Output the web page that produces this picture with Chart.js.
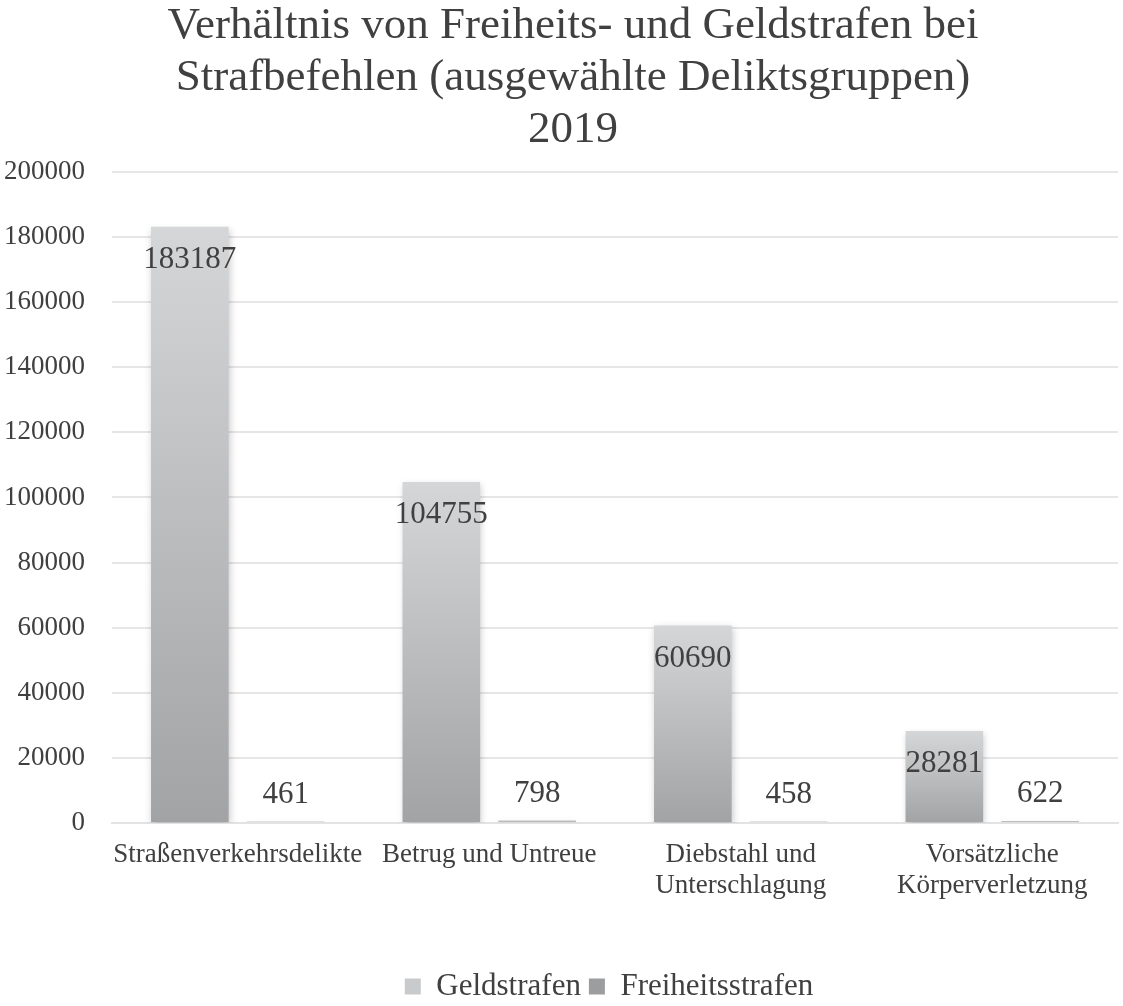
<!DOCTYPE html>
<html><head><meta charset="utf-8">
<script src="https://cdn.jsdelivr.net/npm/chart.js@4/dist/chart.umd.min.js"></script>
<style>html,body{margin:0;padding:0;background:#fff}#wrap{width:1123px;height:1006px}</style>
</head><body><div id="wrap"><canvas id="c"></canvas></div>
<script>
const categories = [["Straßenverkehrsdelikte"], ["Betrug und Untreue"], ["Diebstahl und", "Unterschlagung"], ["Vorsätzliche", "Körperverletzung"]];
const geldstrafen = [183187, 104755, 60690, 28281];
const freiheitsstrafen = [461, 798, 458, 622];
const seriesNames = ["Geldstrafen", "Freiheitsstrafen"];
const titleLines = ["Verhältnis von Freiheits- und Geldstrafen bei", "Strafbefehlen (ausgewählte Deliktsgruppen)", "2019"];

const FONT = "'Liberation Serif', 'Times New Roman', serif";
const TXT = '#404040';
const legendColors = ['#c9cacc', '#9c9d9f'];

function barGradient(ctx, topColor, botColor, solid) {
  if (ctx.type !== 'data') return solid;
  const chart = ctx.chart;
  if (!chart.chartArea || !chart.scales.y) return solid;
  const y = chart.scales.y;
  const top = y.getPixelForValue(ctx.raw);
  const base = y.getPixelForValue(0);
  if (!isFinite(top) || !isFinite(base) || Math.abs(base - top) < 1) return solid;
  const g = chart.ctx.createLinearGradient(0, top, 0, base);
  g.addColorStop(0, topColor);
  g.addColorStop(1, botColor);
  return g;
}

const shadowPlugin = {
  id: 'shadow',
  afterLayout(chart) {
    const lg = chart.legend;
    if (lg) { lg.left += 50; lg.right += 50; lg.top += 6; lg.bottom += 6; }
    const tb = chart.titleBlock;
    if (tb) { tb.left += 14; tb.right += 14; }
  },
  beforeDatasetsDraw(chart) {
    const c = chart.ctx; c.save();
    c.shadowColor = 'rgba(0,0,0,0.22)'; c.shadowBlur = 7; c.shadowOffsetX = 1; c.shadowOffsetY = 3;
  },
  afterDatasetsDraw(chart) {
    const c = chart.ctx; c.restore();
    c.save();
    c.font = '31px ' + FONT; c.fillStyle = TXT; c.textAlign = 'center'; c.textBaseline = 'middle';
    chart.data.datasets.forEach((ds, di) => {
      const meta = chart.getDatasetMeta(di);
      meta.data.forEach((el, i) => {
        const v = ds.data[i];
        const h = el.base - el.y;
        const ty = h > 60 ? el.y + 33 : el.y - 27;
        c.fillText(String(v), el.x, ty);
      });
    });
    c.restore();
  }
};

new Chart(document.getElementById('c'), {
  type: 'bar',
  data: {
    labels: categories,
    datasets: [
      { label: seriesNames[0], data: geldstrafen,
        backgroundColor: ctx => barGradient(ctx, '#d5d6d8', '#a2a3a5', legendColors[0]) },
      { label: seriesNames[1], data: freiheitsstrafen,
        backgroundColor: ctx => barGradient(ctx, '#c4c5c7', '#a6a7a9', legendColors[1]) }
    ]
  },
  options: {
    responsive: true, maintainAspectRatio: false, animation: false,
    devicePixelRatio: 1,
    layout: { padding: { left: 0, right: 5, top: 0, bottom: 0 } },
    datasets: { bar: { categoryPercentage: 0.762, barPercentage: 0.81, borderWidth: 0 } },
    plugins: {
      title: { display: true, text: titleLines, color: TXT,
        font: { family: FONT, size: 45, weight: 'normal', lineHeight: 1.155 },
        padding: { top: 0, bottom: 16 } },
      legend: { position: 'bottom',
        labels: { color: TXT, font: { family: FONT, size: 31 }, boxWidth: 16, boxHeight: 16, padding: 8,
          generateLabels(chart) {
            const items = Chart.defaults.plugins.legend.labels.generateLabels(chart);
            items.forEach((it, i) => { it.fillStyle = legendColors[i]; it.strokeStyle = legendColors[i]; it.lineWidth = 0; });
            return items;
          } } },
      tooltip: { enabled: false }
    },
    scales: {
      x: {
        grid: { display: false, drawTicks: false },
        border: { display: true, color: '#e3e3e3', width: 2 },
        ticks: { color: TXT, font: { family: FONT, size: 27, lineHeight: 1.15 }, padding: 16, maxRotation: 0, autoSkip: false },
        afterFit(s) { s.height = 134; }
      },
      y: {
        min: 0, max: 200000,
        grid: { color: '#e6e6e6', lineWidth: 2, drawTicks: false },
        border: { display: false },
        ticks: { stepSize: 20000, color: TXT, font: { family: FONT, size: 27 }, padding: 27,
          callback: v => String(v) },
        afterFit(s) { s.width = 112; }
      }
    }
  },
  plugins: [shadowPlugin]
});
</script></body></html>
